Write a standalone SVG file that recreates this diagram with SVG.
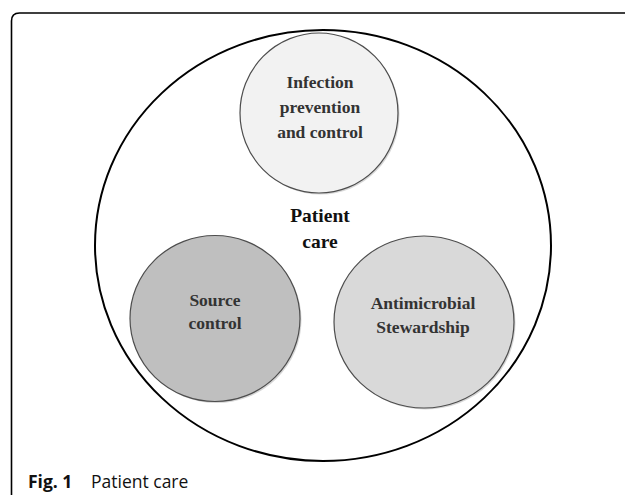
<svg xmlns="http://www.w3.org/2000/svg" width="625" height="495" viewBox="0 0 625 495">
  <style>
    .node { stroke: #4d4d4d; stroke-width: 1.2; }
    .shadow { fill: #b0b0b0; opacity: 0.5; }
    .lbl { font-family: "Liberation Serif", "Times New Roman", serif; font-weight: bold; font-size: 17.5px; fill: #333333; text-anchor: middle; }
    .main { font-family: "Liberation Serif", "Times New Roman", serif; font-weight: bold; font-size: 19.5px; fill: #111111; text-anchor: middle; }
    .cap { font-family: "Open Sans", "Noto Sans", "Liberation Sans", sans-serif; font-size: 17.5px; fill: #111111; }
  </style>
  <rect x="0" y="0" width="625" height="495" fill="#ffffff"/>
  <path d="M 11.5 495 V 21 Q 11.5 13 19.5 13 H 625" fill="none" stroke="#000000" stroke-width="1.6"/>

  <g id="patient-care">
    <ellipse cx="323" cy="245.5" rx="228" ry="215.5" fill="#ffffff" stroke="#000000" stroke-width="2"/>
    <text class="main" x="320" y="222">Patient</text>
    <text class="main" x="320" y="248">care</text>
  </g>

  <g id="infection-prevention">
    <ellipse class="shadow" cx="320.5" cy="114.5" rx="79" ry="80"/>
    <ellipse class="node" cx="319" cy="113" rx="79" ry="80" fill="#f2f2f2"/>
    <text class="lbl" x="320" y="88">Infection</text>
    <text class="lbl" x="320" y="113">prevention</text>
    <text class="lbl" x="320" y="138">and control</text>
  </g>

  <g id="source-control">
    <ellipse class="shadow" cx="216.5" cy="320" rx="85" ry="83"/>
    <ellipse class="node" cx="215" cy="318.5" rx="85" ry="83" fill="#bfbfbf"/>
    <text class="lbl" x="215" y="306">Source</text>
    <text class="lbl" x="215" y="329">control</text>
  </g>

  <g id="antimicrobial-stewardship">
    <ellipse class="shadow" cx="425.5" cy="323.5" rx="90" ry="86"/>
    <ellipse class="node" cx="424" cy="322" rx="90" ry="86" fill="#d9d9d9"/>
    <text class="lbl" x="423" y="309">Antimicrobial</text>
    <text class="lbl" x="423" y="333">Stewardship</text>
  </g>

  <g id="connectors"></g>

  <text class="cap" x="28" y="488"><tspan font-weight="bold">Fig. 1</tspan><tspan x="91">Patient care</tspan></text>
</svg>
